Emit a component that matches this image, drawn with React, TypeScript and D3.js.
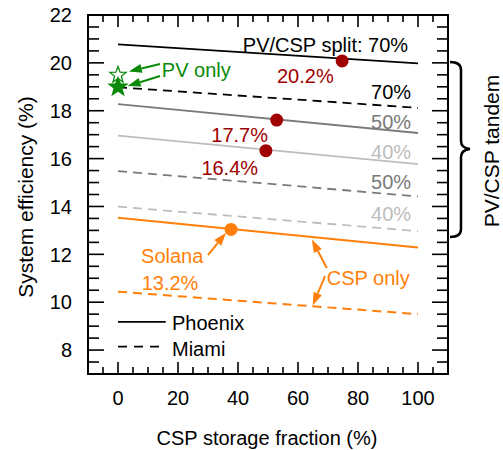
import * as d3 from 'd3';

// storage fraction endpoints (%)
const storage = [0, 100];

// efficiency (%) at storage = 0 and 100
const phoenix70 = [20.77, 19.98];
const miami70 = [18.98, 18.12];
const phoenix50 = [18.28, 17.07];
const phoenix40 = [16.96, 15.77];
const miami50 = [15.48, 14.42];
const miami40 = [13.99, 12.97];
const cspPhoenix = [13.53, 12.29];
const cspMiami = [10.44, 9.5];

// highlighted design points
const tandemPoints = [
  { x: 74.7, y: 20.08 },
  { x: 52.9, y: 17.61 },
  { x: 49.3, y: 16.33 },
];
const solanaPoint = { x: 37.7, y: 13.04 };
const pvOnly = [
  { x: 0, y: 19.49, filled: false },
  { x: 0, y: 18.99, filled: true },
];

const xMajor = [0, 20, 40, 60, 80, 100];
const yMajor = [8, 10, 12, 14, 16, 18, 20, 22];

const FONT = 'Liberation Sans, Arial, sans-serif';
const ORANGE = '#ff7f0a';
const GREEN = '#0a8a0a';
const RED = '#a00000';
const GRAY = '#7a7a7a';
const LIGHT = '#bdbdbd';
const FS = 20;

const W = 503;
const H = 450;
const L = 88, R = 448, T = 15, B = 374;

const x = d3.scaleLinear().domain([-10, 110]).range([L, R]);
const y = d3.scaleLinear().domain([7, 22]).range([B, T]);

const line = d3
  .line<number>()
  .x((_, i) => x(storage[i]))
  .y((d) => y(d));

function starPath(cx: number, cy: number, r: number) {
  const pts: [number, number][] = [];
  for (let i = 0; i < 10; i++) {
    const a = -Math.PI / 2 + (i * Math.PI) / 5;
    const rr = i % 2 === 0 ? r : r * 0.42;
    pts.push([cx + rr * Math.cos(a), cy + rr * Math.sin(a)]);
  }
  return 'M' + pts.map((p) => p.join(',')).join('L') + 'Z';
}

function Arrow({ x1, y1, x2, y2, color }: { x1: number; y1: number; x2: number; y2: number; color: string }) {
  const ax = x(x1), ay = y(y1), bx = x(x2), by = y(y2);
  const ang = Math.atan2(by - ay, bx - ax);
  const hl = 13, hw = 4.5;
  const baseX = bx - hl * Math.cos(ang);
  const baseY = by - hl * Math.sin(ang);
  const px = -Math.sin(ang) * hw, py = Math.cos(ang) * hw;
  return (
    <g>
      <line x1={ax} y1={ay} x2={baseX} y2={baseY} stroke={color} strokeWidth={2} />
      <path d={`M${bx},${by}L${baseX + px},${baseY + py}L${baseX - px},${baseY - py}Z`} fill={color} />
    </g>
  );
}

export default function App() {
  const xTicks = d3.range(-5, 110, 5);
  const yTicks = d3.range(7.5, 22, 0.5);
  const series = [
    { d: phoenix70, c: '#000', dash: undefined, w: 1.8 },
    { d: miami70, c: '#000', dash: '9,6', w: 1.8 },
    { d: phoenix50, c: GRAY, dash: undefined, w: 1.8 },
    { d: phoenix40, c: LIGHT, dash: undefined, w: 1.8 },
    { d: miami50, c: GRAY, dash: '9,6', w: 1.8 },
    { d: miami40, c: LIGHT, dash: '9,6', w: 1.8 },
    { d: cspPhoenix, c: ORANGE, dash: undefined, w: 2 },
    { d: cspMiami, c: ORANGE, dash: '9,6', w: 2 },
  ];
  const rightLabels = [
    { t: '70%', y: 18.49, c: '#000' },
    { t: '50%', y: 17.24, c: GRAY },
    { t: '40%', y: 15.98, c: LIGHT },
    { t: '50%', y: 14.73, c: GRAY },
    { t: '40%', y: 13.4, c: LIGHT },
  ];

  return (
    <svg width={W} height={H} style={{ position: 'absolute', left: 0, top: 0 }} fontFamily={FONT}>
      <rect width={W} height={H} fill="#fff" />

      {/* ticks, inward on all sides */}
      {xTicks.map((t) => {
        const major = xMajor.includes(t);
        const len = major ? 12 : 7;
        return (
          <g key={'x' + t} stroke="#000" strokeWidth={1.6}>
            <line x1={x(t)} x2={x(t)} y1={B} y2={B - len} />
            <line x1={x(t)} x2={x(t)} y1={T} y2={T + len} />
          </g>
        );
      })}
      {yTicks.map((t) => {
        const major = yMajor.includes(t);
        const len = major ? 16 : 11;
        return (
          <g key={'y' + t} stroke="#000" strokeWidth={1.6}>
            <line x1={L} x2={L + len} y1={y(t)} y2={y(t)} />
            <line x1={R} x2={R - len} y1={y(t)} y2={y(t)} />
          </g>
        );
      })}
      <rect x={L} y={T} width={R - L} height={B - T} fill="none" stroke="#000" strokeWidth={2} />

      {xMajor.map((t) => (
        <text key={'xl' + t} x={x(t)} y={405} fontSize={FS} textAnchor="middle">{t}</text>
      ))}
      {yMajor.map((t) => (
        <text key={'yl' + t} x={72} y={y(t)} dy="0.36em" fontSize={FS} textAnchor="end">{t}</text>
      ))}

      <text x={267} y={445} fontSize={20} textAnchor="middle">CSP storage fraction (%)</text>
      <text transform={`translate(33,${197}) rotate(-90)`} fontSize={21} textAnchor="middle">System efficiency (%)</text>

      {/* curves */}
      {series.map((s, i) => (
        <path key={i} d={line(s.d) || ''} fill="none" stroke={s.c} strokeWidth={s.w} strokeDasharray={s.dash} />
      ))}

      {/* labels */}
      <text x={x(96.7)} y={y(20.45)} fontSize={FS} textAnchor="end">PV/CSP split: 70%</text>
      {rightLabels.map((l, i) => (
        <text key={i} x={x(97.7)} y={y(l.y)} fontSize={FS} textAnchor="end" fill={l.c}>{l.t}</text>
      ))}

      {tandemPoints.map((p, i) => (
        <circle key={i} cx={x(p.x)} cy={y(p.y)} r={6.5} fill={RED} />
      ))}
      <text x={x(53)} y={y(19.16)} fontSize={FS} fill={RED}>20.2%</text>
      <text x={x(50)} y={y(16.69)} fontSize={FS} fill={RED} textAnchor="end">17.7%</text>
      <text x={x(46.7)} y={y(15.31)} fontSize={FS} fill={RED} textAnchor="end">16.4%</text>

      {/* PV only */}
      {pvOnly.map((p, i) => (
        <path
          key={i}
          d={starPath(x(p.x), y(p.y), p.filled ? 9.5 : 8.5)}
          fill={p.filled ? GREEN : '#fff'}
          fillOpacity={p.filled ? 1 : 0.6}
          stroke={GREEN}
          strokeWidth={1.3}
        />
      ))}
      <Arrow x1={14} y1={19.95} x2={3.6} y2={19.64} color={GREEN} />
      <Arrow x1={14} y1={19.45} x2={3.2} y2={19.03} color={GREEN} />
      <text x={x(14.6)} y={y(19.42)} fontSize={FS} fill={GREEN}>PV only</text>

      {/* CSP only */}
      <circle cx={x(solanaPoint.x)} cy={y(solanaPoint.y)} r={6.5} fill={ORANGE} />
      <Arrow x1={30} y1={11.97} x2={36} y2={12.9} color={ORANGE} />
      <text x={x(7.7)} y={y(11.64)} fontSize={FS} fill={ORANGE}>Solana</text>
      <text x={x(7.9)} y={y(10.51)} fontSize={FS} fill={ORANGE}>13.2%</text>
      <Arrow x1={69.6} y1={11.43} x2={64.6} y2={12.62} color={ORANGE} />
      <Arrow x1={69} y1={11.09} x2={64.9} y2={9.86} color={ORANGE} />
      <text x={x(69.6)} y={y(10.72)} fontSize={FS} fill={ORANGE}>CSP only</text>

      {/* legend */}
      <line x1={x(0)} x2={x(15.9)} y1={y(9.18)} y2={y(9.18)} stroke="#000" strokeWidth={1.8} />
      <text x={x(18)} y={y(8.84)} fontSize={FS}>Phoenix</text>
      <line x1={x(0)} x2={x(15.9)} y1={y(8.14)} y2={y(8.14)} stroke="#000" strokeWidth={1.8} strokeDasharray="9,7" />
      <text x={x(18)} y={y(7.76)} fontSize={FS}>Miami</text>

      {/* bracket */}
      <path
        d="M450,62 Q461,62 461,70 L461,141 Q461,148 470,149 Q461,150 461,157 L461,229 Q461,237 450,237"
        fill="none"
        stroke="#000"
        strokeWidth={2.5}
      />
      <text transform={`translate(499,151) rotate(-90)`} fontSize={21} textAnchor="middle">PV/CSP tandem</text>
    </svg>
  );
}
